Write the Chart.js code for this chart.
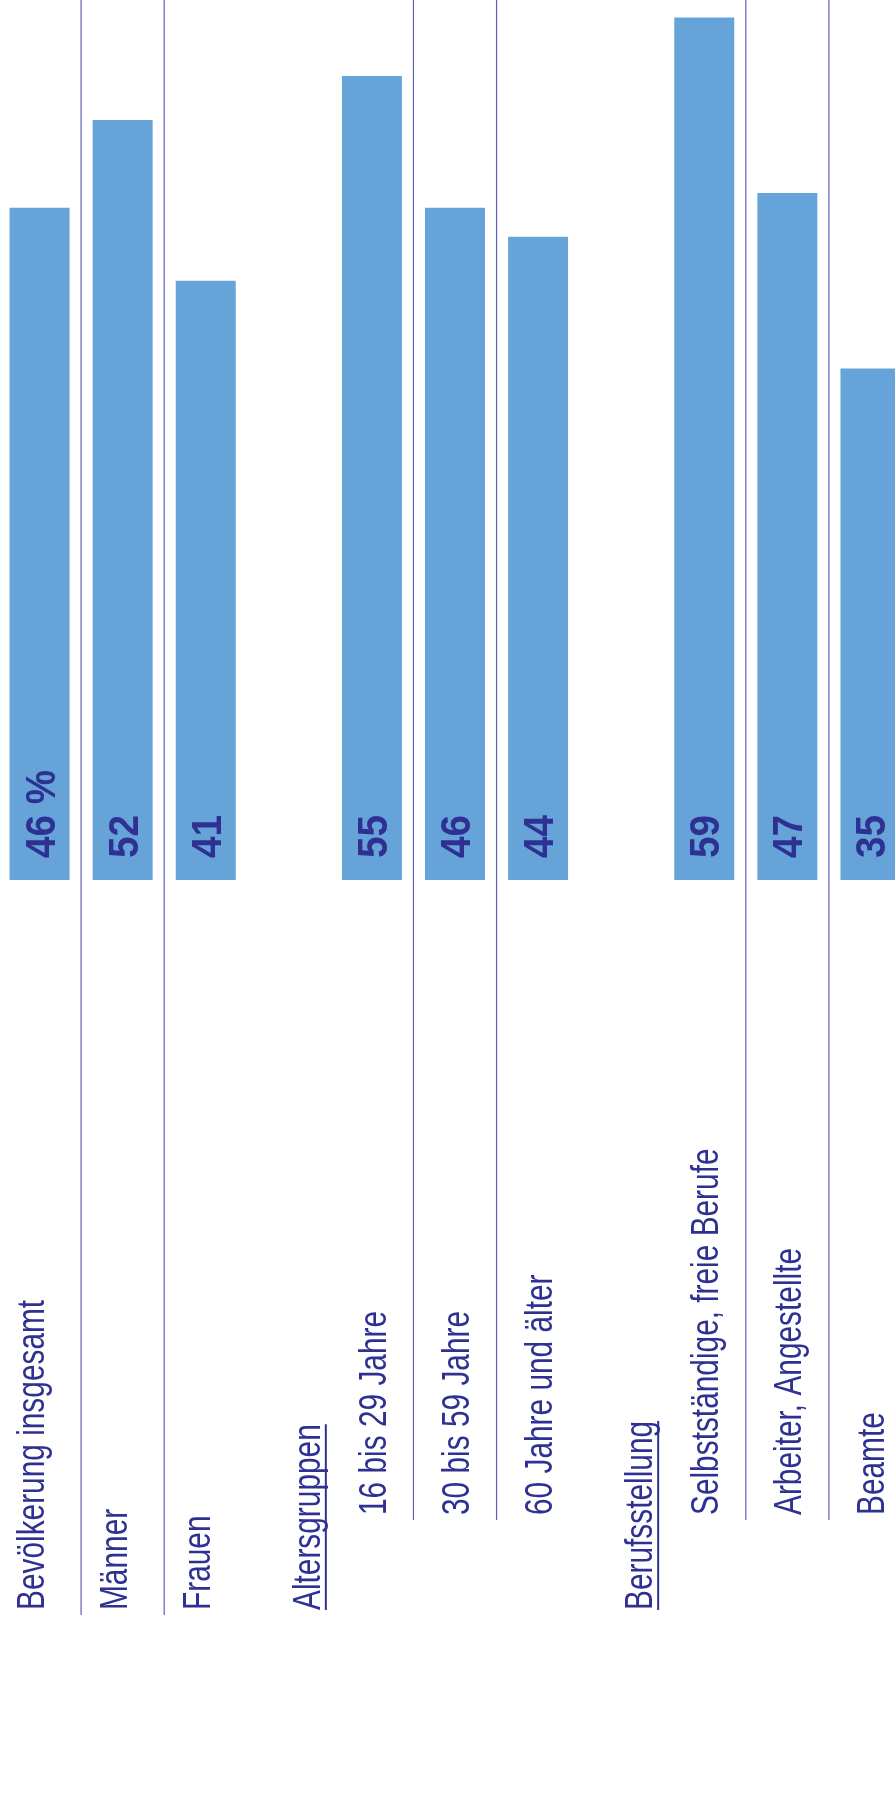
<!DOCTYPE html>
<html>
<head>
<meta charset="utf-8">
<script src="https://cdn.jsdelivr.net/npm/chart.js@4"></script>
<style>
  html, body { margin: 0; padding: 0; background: #fff; overflow: hidden; }
  #wrap { position: absolute; left: -2px; top: 0; width: 914px; height: 1816px; }
</style>
</head>
<body>
<div id="wrap"><canvas id="myChart" width="914" height="1816"></canvas></div>
<script>
// categories (row labels), in the order they appear from left to right
const categories = [
    'Bevölkerung insgesamt', 'Männer', 'Frauen',
    'Altersgruppen', '16 bis 29 Jahre', '30 bis 59 Jahre', '60 Jahre und älter',
    'Berufsstellung', 'Selbstständige, freie Berufe', 'Arbeiter, Angestellte', 'Beamte'
];
// share in percent, null for the group headings
const values = [46, 52, 41, null, 55, 46, 44, null, 59, 47, 35];
// kind of row: top level, group heading, or sub item
const rowKinds = ['top', 'top', 'top', 'head', 'sub', 'sub', 'sub', 'head', 'sub', 'sub', 'sub'];
const valueUnit = ' %';

const textColor = '#2e3192';
const lineColor = '#5d60b2';
const barColor = '#66a3d8';

// label placement per row kind
const labelShift = { top: 4, head: 31, sub: 14 };
const labelStart = { top: 1610, head: 1610, sub: 1515 };

const labelsPlugin = {
    id: 'rotatedLabels',
    afterDraw(chart) {
        const ctx = chart.ctx;
        const x = chart.scales.x;
        const y = chart.scales.y;
        const base = y.getPixelForValue(0);

        // separators between neighbouring bars of one group
        ctx.save();
        ctx.strokeStyle = lineColor;
        ctx.lineWidth = 1.2;
        for (let i = 0; i < categories.length - 1; i++) {
            if (values[i] === null || values[i + 1] === null) continue;
            const sx = (x.getPixelForValue(i) + x.getPixelForValue(i + 1)) / 2;
            const end = labelStart[rowKinds[i]] + 5;
            ctx.beginPath();
            ctx.moveTo(sx, 0);
            ctx.lineTo(sx, end);
            ctx.stroke();
        }
        ctx.restore();

        // value labels inside the bars
        values.forEach((v, i) => {
            if (v === null) return;
            const px = x.getPixelForValue(i);
            ctx.save();
            ctx.translate(px + 15, base - 22);
            ctx.rotate(-Math.PI / 2);
            ctx.scale(0.92, 1);
            ctx.font = 'bold 42px "Liberation Sans", Arial, sans-serif';
            ctx.fillStyle = textColor;
            ctx.textAlign = 'left';
            ctx.textBaseline = 'alphabetic';
            ctx.fillText(i === 0 ? v + valueUnit : String(v), 0, 0);
            ctx.restore();
        });

        // category labels, reading bottom to top
        categories.forEach((label, i) => {
            const kind = rowKinds[i];
            const px = x.getPixelForValue(i) + labelShift[kind];
            ctx.save();
            ctx.translate(px, labelStart[kind]);
            ctx.rotate(-Math.PI / 2);
            ctx.scale(0.765, 1);
            ctx.font = '39px "Liberation Sans", Arial, sans-serif';
            ctx.fillStyle = textColor;
            ctx.textAlign = 'left';
            ctx.textBaseline = 'alphabetic';
            ctx.fillText(label, 0, 0);
            if (kind === 'head') {
                const w = ctx.measureText(label).width;
                ctx.fillRect(0, 5, w, 2);
            }
            ctx.restore();
        });
    }
};

const ctx = document.getElementById('myChart').getContext('2d');

const myChart = new Chart(ctx, {
    type: 'bar',
    data: {
        labels: categories,
        datasets: [{
            data: values,
            backgroundColor: barColor,
            borderWidth: 0,
            barPercentage: 0.722,
            categoryPercentage: 1.0
        }]
    },
    options: {
        responsive: false,
        animation: false,
        devicePixelRatio: 1,
        layout: {
            padding: { top: 3, bottom: 936, left: 0, right: 0 }
        },
        scales: {
            x: { display: false },
            y: { display: false, min: 0, max: 60 }
        },
        plugins: {
            legend: { display: false },
            tooltip: { enabled: false }
        }
    },
    plugins: [labelsPlugin]
});
</script>
</body>
</html>
